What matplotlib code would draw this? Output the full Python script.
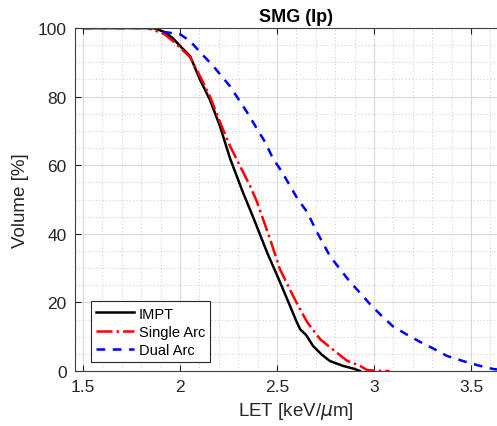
import matplotlib
matplotlib.use("Agg")
import matplotlib.pyplot as plt
from matplotlib.ticker import MultipleLocator

plt.rcParams['font.family'] = ['Liberation Sans', 'DejaVu Sans']

impt_let = [1.50, 1.86, 1.88, 1.92, 1.96, 2.00, 2.052, 2.103, 2.155, 2.206, 2.258, 2.325, 2.376,
            2.448, 2.515, 2.567, 2.60, 2.619, 2.65, 2.686, 2.73, 2.773, 2.840, 2.90, 2.928]
impt_vol = [100, 100, 99.7, 98.8, 97.2, 94.8, 91.8, 85, 79, 71.4, 62, 52, 45,
            34.7, 26, 19, 14.5, 12.2, 10.5, 7.3, 4.8, 2.9, 1.5, 0.6, 0]

single_let = [1.50, 1.83, 1.87, 1.92, 1.964, 2.052, 2.103, 2.155, 2.206, 2.258, 2.309, 2.361,
              2.397, 2.43, 2.464, 2.515, 2.582, 2.619, 2.655, 2.722, 2.789, 2.861, 2.928,
              2.964, 3.0, 3.08]
single_vol = [100, 100, 99.3, 98.2, 96.2, 91.5, 86, 80, 72.6, 65.6, 59.8, 54,
              49.3, 44, 38.5, 29.7, 22, 18, 14.3, 9.3, 6.2, 3, 1.5,
              0.3, 0.1, 0]

dual_let = [1.50, 1.871, 1.897, 2.0, 2.052, 2.103, 2.17, 2.258, 2.345, 2.397, 2.438,
            2.479, 2.526, 2.567, 2.608, 2.655, 2.706, 2.773, 2.825, 2.876, 2.938,
            2.979, 3.041, 3.098, 3.170, 3.237, 3.304, 3.376, 3.459, 3.546, 3.613, 3.70]
dual_vol = [100, 100, 99, 98.2, 96.2, 93, 89, 83, 75.5, 70.6, 66.8,
            62, 58, 54, 50, 46.4, 40.5, 33.5, 29.7, 26, 22.2,
            19.5, 16, 13, 10.6, 8.5, 6.6, 4.4, 2.9, 1.5, 0.6, 0]

x_ticks = [1.5, 2, 2.5, 3, 3.5]
x_ticklabels = ['1.5', '2', '2.5', '3', '3.5']
y_ticks = [0, 20, 40, 60, 80, 100]

fig = plt.figure(figsize=(4.97, 4.27), dpi=100)
ax = fig.add_axes([75/497, 55/427, 442/497, 343/427])

ax.plot(impt_let, impt_vol, color='black', lw=1.8, ls='-', label='IMPT')
ax.plot(single_let, single_vol, color='red', lw=1.8, ls='-.', label='Single Arc')
ax.plot(dual_let, dual_vol, color='blue', lw=1.8, ls=(0, (3.5, 3)), label='Dual Arc')

ax.set_xlim(1.459, 3.737)
ax.set_ylim(0, 100)
ax.set_xticks(x_ticks)
ax.set_xticklabels(x_ticklabels)
ax.set_yticks(y_ticks)
ax.xaxis.set_minor_locator(MultipleLocator(0.1))
ax.yaxis.set_minor_locator(MultipleLocator(5))

ax.grid(which='major', color='#d9d9d9', lw=0.8, ls='-')
ax.grid(which='minor', color='#c8c8c8', lw=0.7, ls=(0, (1, 2.5)))
ax.set_axisbelow(True)

tc = '#262626'
ax.tick_params(which='major', direction='in', length=4, width=0.8, colors=tc,
               labelsize=12.5, top=True, right=True, pad=6)
ax.tick_params(which='minor', length=0, top=True, right=True)
for s in ax.spines.values():
    s.set_color('#404040')
    s.set_linewidth(0.8)

ax.set_xlabel('LET [keV/$\\mu$m]', fontsize=13.5, color=tc, labelpad=4)
ax.set_ylabel('Volume [%]', fontsize=13.5, color=tc, labelpad=6)
ax.set_title('SMG (Ip)', fontsize=13, fontweight='bold', color='black', pad=5)

leg = ax.legend(loc='lower left', bbox_to_anchor=(0.037, 0.025), fontsize=10.5,
                frameon=True, fancybox=False, edgecolor='#262626', framealpha=1,
                handlelength=2.6, handletextpad=0.3, borderpad=0.35, labelspacing=0.3,
                borderaxespad=0)
leg.get_frame().set_linewidth(0.8)

fig.savefig('out.png', dpi=100)
